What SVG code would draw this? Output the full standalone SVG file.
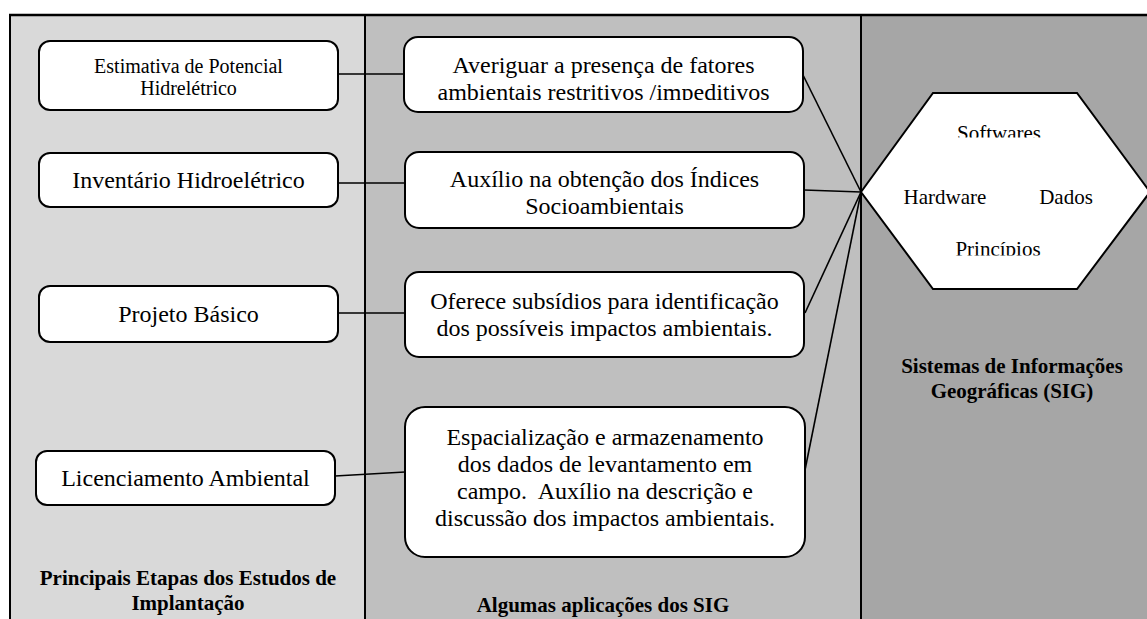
<svg xmlns="http://www.w3.org/2000/svg" width="1147" height="619" viewBox="0 0 1147 619">
<style>
text{font-family:"Liberation Serif","Times New Roman",serif;fill:#000;text-anchor:middle}
.box{fill:#fff;stroke:#000;stroke-width:2}
.t24{font-size:24px}
.t20{font-size:20px}
.t21{font-size:21px}
.b{font-size:21px;font-weight:bold}
.con line{stroke:#000;stroke-width:1.6}
</style>
<defs>
<clipPath id="clipSoft"><rect x="900" y="100" width="200" height="37.5"/></clipPath>
<clipPath id="clipPrin"><rect x="900" y="220" width="200" height="35.5"/></clipPath>
<clipPath id="clipAv"><rect x="404" y="37" width="399" height="63"/></clipPath>
</defs>
<g id="background">
<rect x="9" y="14" width="356" height="620" fill="#d9d9d9"/>
<rect x="365" y="14" width="496" height="620" fill="#bfbfbf"/>
<rect x="861" y="14" width="300" height="620" fill="#a6a6a6"/>
<line x1="9" y1="15" x2="1147" y2="15" stroke="#000" stroke-width="2.5"/>
<line x1="10" y1="14" x2="10" y2="619" stroke="#000" stroke-width="2"/>
<line x1="365" y1="14" x2="365" y2="619" stroke="#000" stroke-width="2"/>
<line x1="861" y1="14" x2="861" y2="619" stroke="#000" stroke-width="2"/>
</g>
<g id="connectors" class="con">
<line x1="338" y1="74" x2="404" y2="74"/>
<line x1="338" y1="183" x2="405" y2="183"/>
<line x1="338" y1="313" x2="405" y2="313"/>
<line x1="335" y1="476" x2="405" y2="472"/>
<line x1="803" y1="75" x2="861" y2="192"/>
<line x1="804" y1="190" x2="861" y2="192"/>
<line x1="805" y1="313" x2="861" y2="192"/>
<line x1="805" y1="470" x2="861" y2="192"/>
</g>
<g id="n-estimativa">
<rect class="box" x="39" y="41" width="299" height="69" rx="11"/>
<text class="t20" x="188.5" y="73">Estimativa de Potencial</text>
<text class="t20" x="188.5" y="95">Hidrelétrico</text>
</g>
<g id="n-inventario">
<rect class="box" x="39" y="153" width="299" height="54" rx="11"/>
<text class="t24" x="188.5" y="188">Inventário Hidroelétrico</text>
</g>
<g id="n-projeto">
<rect class="box" x="39" y="286" width="299" height="56" rx="11"/>
<text class="t24" x="188.5" y="322">Projeto Básico</text>
</g>
<g id="n-licenciamento">
<rect class="box" x="36" y="451" width="299" height="54" rx="11"/>
<text class="t24" x="185.5" y="486">Licenciamento Ambiental</text>
</g>
<g id="title-etapas">
<text class="b" x="188" y="585">Principais Etapas dos Estudos de</text>
<text class="b" x="188" y="610">Implantação</text>
</g>
<g id="n-averiguar">
<rect class="box" x="404" y="37" width="399" height="75" rx="14"/>
<g clip-path="url(#clipAv)">
<text class="t24" x="603.5" y="73">Averiguar a presença de fatores</text>
<text class="t24" x="603.5" y="100">ambientais restritivos /impeditivos</text>
</g>
</g>
<g id="n-auxilio">
<rect class="box" x="405" y="152" width="399" height="76" rx="14"/>
<text class="t24" x="604.5" y="187">Auxílio na obtenção dos Índices</text>
<text class="t24" x="604.5" y="214">Socioambientais</text>
</g>
<g id="n-oferece">
<rect class="box" x="405" y="272" width="399" height="85" rx="14"/>
<text class="t24" x="604.5" y="309">Oferece subsídios para identificação</text>
<text class="t24" x="604.5" y="336">dos possíveis impactos ambientais.</text>
</g>
<g id="n-espacializacao">
<rect class="box" x="405" y="407" width="400" height="150" rx="20"/>
<text class="t24" x="605" y="445">Espacialização e armazenamento</text>
<text class="t24" x="605" y="472">dos dados de levantamento em</text>
<text class="t24" x="605" y="499" xml:space="preserve">campo.  Auxílio na descrição e</text>
<text class="t24" x="605" y="526">discussão dos impactos ambientais.</text>
</g>
<g id="title-aplicacoes">
<text class="b" x="603" y="612">Algumas aplicações dos SIG</text>
</g>
<g id="n-sig">
<polygon points="861,192 933,93 1077,93 1150,192 1077,289 933,289" fill="#fff" stroke="#000" stroke-width="2"/>
<text class="t21" x="999" y="139.5" clip-path="url(#clipSoft)">Softwares</text>
<text class="t21" x="945" y="204">Hardware</text>
<text class="t21" x="1066" y="204">Dados</text>
<text class="t21" x="998" y="255.5" clip-path="url(#clipPrin)">Princípios</text>
</g>
<g id="title-sig">
<text class="b" x="1012" y="373">Sistemas de Informações</text>
<text class="b" x="1012" y="398">Geográficas (SIG)</text>
</g>
</svg>
